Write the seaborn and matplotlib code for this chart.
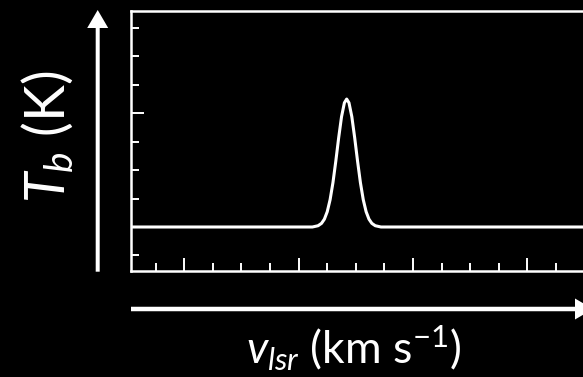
import matplotlib
matplotlib.use("Agg")
import matplotlib.pyplot as plt
from matplotlib.patches import FancyArrow
import pandas as pd
import seaborn as sns

# Emission line profile: LSR velocity (km/s) and brightness temperature (K)
velocity = [0.14, 6.48, 6.68, 6.80, 6.90, 7.00, 7.10, 7.20, 7.30, 7.40, 7.50, 7.60,
            7.68, 7.76, 7.86, 7.96, 8.06, 8.16, 8.26, 8.36, 8.46, 8.56, 8.68, 8.88, 15.95]
t_b = [0.0, 0.0, 0.045, 0.128, 0.275, 0.537, 0.958, 1.559, 2.314, 3.133, 3.870, 4.36,
       4.49, 4.36, 3.870, 3.133, 2.314, 1.559, 0.958, 0.537, 0.275, 0.128, 0.045, 0.0, 0.0]

# Unlabelled tick positions
x_major = [2, 6, 10, 14]
x_minor = [1, 3, 4, 5, 7, 8, 9, 11, 12, 13, 15]
y_major = [0, 4]
y_minor = [-1, 1, 2, 3, 5, 6, 7]

x_label = r"$v_{lsr}$ (km s$^{-1}$)"
y_label = r"$T_b$ (K)"

sns.set_style("dark", {"axes.facecolor": "black", "figure.facecolor": "black"})
plt.rcParams["font.family"] = ["Lato", "DejaVu Sans"]
plt.rcParams["mathtext.fontset"] = "custom"
plt.rcParams["mathtext.rm"] = "Lato"
plt.rcParams["mathtext.it"] = "Lato:italic"
plt.rcParams["mathtext.bf"] = "Lato:bold"

W, H = 583, 377
fig = plt.figure(figsize=(W / 100, H / 100), dpi=100, facecolor="black")
left, right, top, bottom = 131, 590, 11, 270.6
ax = fig.add_axes([left / W, 1 - bottom / H, (right - left) / W, (bottom - top) / H])
ax.set_facecolor("black")

df = pd.DataFrame({"v": velocity, "T": t_b})
sns.lineplot(data=df, x="v", y="T", ax=ax, color="white", linewidth=2.2,
             sort=False, estimator=None)

ax.set_xlim(0.136, 15.946 + (right - W) / 28.59)
ax.set_ylim(-1.53, 7.58)
ax.set_xticks(x_major)
ax.set_xticks(x_minor, minor=True)
ax.set_yticks(y_major)
ax.set_yticks(y_minor, minor=True)
ax.tick_params(which="both", direction="in", colors="white", width=1.4,
               labelbottom=False, labelleft=False, top=False, right=False,
               bottom=True, left=True)
ax.tick_params(which="major", length=9.4)
ax.tick_params(which="minor", length=6.0)
ax.set_xlabel("")
ax.set_ylabel("")
ax.grid(False)
for name, sp in ax.spines.items():
    sp.set_color("white")
    sp.set_linewidth(1.8)
    sp.set_visible(name != "right")

# Axis arrows (sizes in inches, 1 px = 0.01 in)
tr = fig.dpi_scale_trans
fig.add_artist(FancyArrow(0.977, (H - 271.7) / 100, 0, (271.7 - 10) / 100,
                          width=0.04, head_width=0.21, head_length=0.18,
                          length_includes_head=True, color="white", lw=0,
                          transform=tr))
fig.add_artist(FancyArrow(1.31, (H - 309) / 100, (593 - 131) / 100, 0,
                          width=0.045, head_width=0.21, head_length=0.18,
                          length_includes_head=True, color="white", lw=0,
                          transform=tr))

fig.text(47.5 / W, 1 - 136.5 / H, y_label, rotation=90, ha="center", va="center",
         fontsize=40, color="white")
fig.text(354 / W, 1 - 364 / H, x_label, ha="center", va="baseline",
         fontsize=32, color="white")

fig.savefig("out.png", dpi=100, facecolor="black")
